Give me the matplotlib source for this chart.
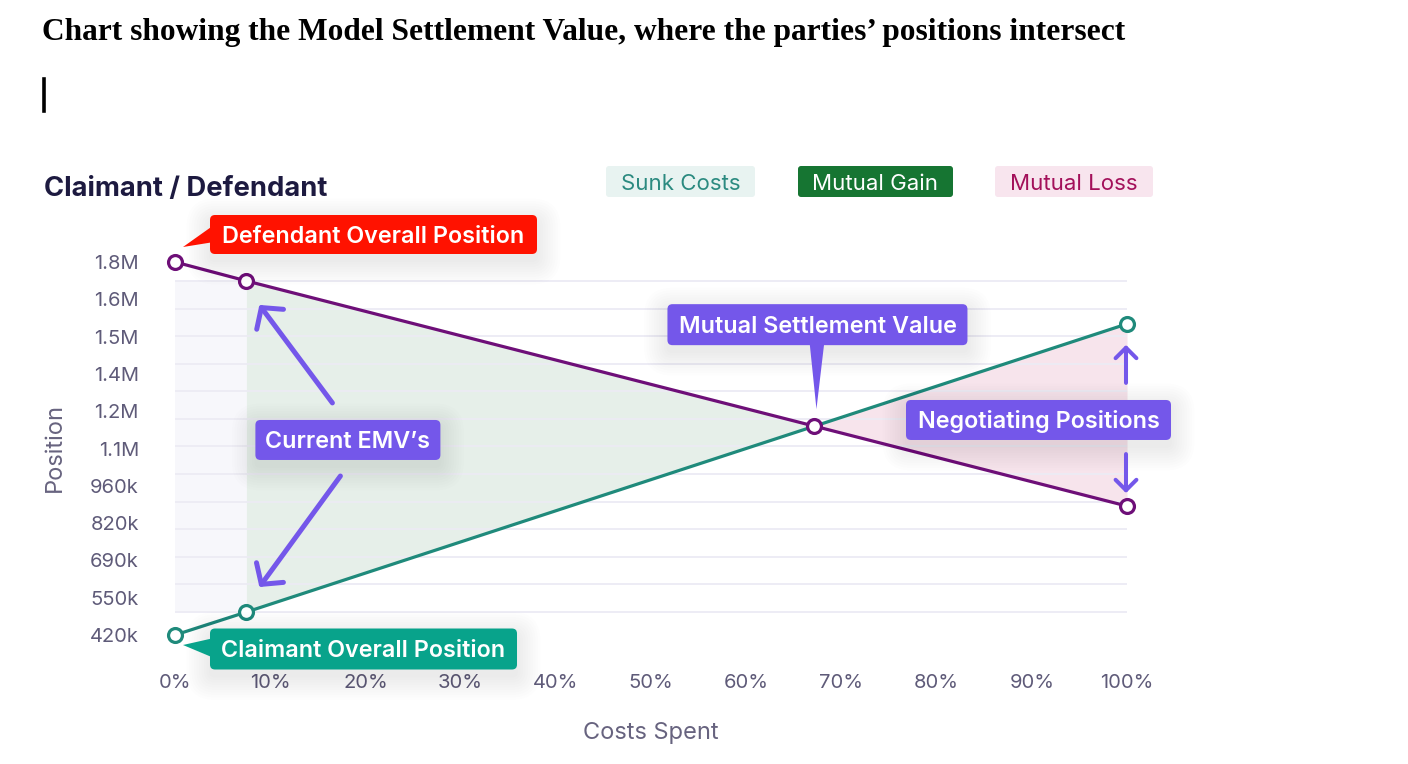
import matplotlib
matplotlib.use('Agg')
import matplotlib.pyplot as plt
from matplotlib.transforms import IdentityTransform
from matplotlib.patches import FancyBboxPatch, Polygon, FancyArrowPatch
from matplotlib.lines import Line2D
import numpy as np

# ---------------- data ----------------
cost_pct = [0, 7.5, 100]
defendant = [1800000, 1730000, 897000]
claimant = [420000, 505000, 1571000]
xtick_vals = list(range(0, 101, 10))
xtick_labels = [f'{v}%' for v in xtick_vals]
ytick_labels = ['420k', '550k', '690k', '820k', '960k', '1.1M', '1.2M', '1.4M', '1.5M', '1.6M', '1.8M']
legend_items = ['Sunk Costs', 'Mutual Gain', 'Mutual Loss']

title = 'Chart showing the Model Settlement Value, where the parties\u2019 positions intersect'

plt.rcParams['font.family'] = ['Inter', 'DejaVu Sans']

W, H = 1408, 764
fig = plt.figure(figsize=(W / 100, H / 100), dpi=100)
ID = IdentityTransform()

PURPLE = '#6e0f78'
TEAL = '#1f8a7b'
ARROW = '#7457ea'
TICK = '#5f5b79'

ax = fig.add_axes([175 / W, (H - 635) / H, 952 / W, 373 / H])
ax.set_xlim(0, 100)
ax.set_ylim(claimant[0], defendant[0])
for s in ax.spines.values():
    s.set_visible(False)
ax.patch.set_alpha(0)

# intersection of the two lines (segment 1-2)
x1, x2 = cost_pct[1], cost_pct[2]
d1, d2 = defendant[1], defendant[2]
c1, c2 = claimant[1], claimant[2]
frac = (d1 - c1) / ((c2 - c1) - (d2 - d1))
xi = x1 + frac * (x2 - x1)
yi = d1 + frac * (d2 - d1)

# fills
ax.fill_between([cost_pct[0], x1 + 0.2], [c1, c1], [d1, d1], color='#f7f7fb', lw=0, zorder=0.4)
ax.fill_between([x1, xi], [c1, yi], [d1, yi], color='#e6efe9', lw=0, zorder=0.5)
ax.fill_between([xi, x2], [yi, c2], [yi, d2], color='#f7e4ec', lw=0, zorder=0.5)

# grid lines
for g in np.linspace(c1, d1, 13):
    ax.axhline(g, color='#ecebf4', lw=1.3, zorder=1)

# lines
ax.plot(cost_pct, claimant, color=TEAL, lw=2.3, marker='o', ms=10, mfc='white',
        mec=TEAL, mew=2.3, clip_on=False, zorder=3)
ax.plot(cost_pct, defendant, color=PURPLE, lw=2.3, marker='o', ms=10, mfc='white',
        mec=PURPLE, mew=2.3, clip_on=False, zorder=4)
ax.plot([xi], [yi], marker='o', ms=10, mfc='white', mec=PURPLE, mew=2.3,
        clip_on=False, zorder=5)

# ticks
ax.set_xticks(xtick_vals)
ax.set_xticklabels(xtick_labels)
ax.set_yticks(np.linspace(claimant[0], defendant[0], len(ytick_labels)))
ax.set_yticklabels(ytick_labels)
ax.tick_params(axis='x', length=0, pad=28, labelsize=14.5, labelcolor=TICK)
ax.tick_params(axis='y', length=0, pad=26, labelsize=14.5, labelcolor=TICK)


def D(x, y):
    return ax.transData.transform((x, y))


def box(cx, cy, w, h, text, fc, tc, fs, weight=600, radius=5, shadow=True, z=10):
    if shadow:
        for i in range(10):
            g = 1 + i * 2.5
            fig.add_artist(FancyBboxPatch((cx - w / 2 - g, cy - h / 2 - g - 7), w + 2 * g, h + 2 * g,
                                          boxstyle=f'round,pad=0,rounding_size={radius + g}',
                                          transform=ID, fc='black', ec='none', alpha=0.009, zorder=z - 1))
    fig.add_artist(FancyBboxPatch((cx - w / 2, cy - h / 2), w, h,
                                  boxstyle=f'round,pad=0,rounding_size={radius}',
                                  transform=ID, fc=fc, ec='none', zorder=z))
    fs_px = fs * 100 / 72
    fig.text(cx, cy - 0.727 * fs_px / 2, text, transform=ID, ha='center', va='baseline',
             color=tc, fontsize=fs, fontweight=weight, zorder=z + 1)


def tail(pts, fc, z=10):
    fig.add_artist(Polygon(pts, closed=True, transform=ID, fc=fc, ec='none', zorder=z))


def arrow(p_from, p_to, lw, hl, hw):
    fig.add_artist(FancyArrowPatch(p_from, p_to, transform=ID,
                                   arrowstyle=f'->,head_length={hl},head_width={hw}',
                                   mutation_scale=10, lw=lw, color=ARROW, zorder=12,
                                   shrinkA=0, shrinkB=0))


CS = 16.8  # callout font size

# Defendant callout
a = D(cost_pct[0], defendant[0])
cx, cy = a[0] + 198.5, a[1] + 27.5
bw, bh = 327, 39
tail([(cx - bw / 2 + 4, cy + 9.5), (cx - bw / 2 + 4, cy - 7.5), (a[0] + 8, a[1] + 15)], '#ff1200')
box(cx, cy, bw, bh, 'Defendant Overall Position', '#ff1200', 'white', CS)

# Claimant callout
a = D(cost_pct[0], claimant[0])
cx, cy = a[0] + 188.5, a[1] - 14
bw, bh = 307, 41
tail([(cx - bw / 2 + 4, cy + 11), (cx - bw / 2 + 4, cy - 9), (a[0] + 8, a[1] - 10)], '#08a38b')
box(cx, cy, bw, bh, 'Claimant Overall Position', '#08a38b', 'white', CS)

# Mutual settlement value callout
a = D(xi, yi)
cx, cy = a[0] + 3, a[1] + 101.5
bw, bh = 300, 41
tail([(cx - 8, cy - bh / 2 + 4), (cx + 7, cy - bh / 2 + 4), (a[0] + 2, a[1] + 17)], '#7457ea')
box(cx, cy, bw, bh, 'Mutual Settlement Value', '#7457ea', 'white', CS)

# Current EMV's callout + arrows
pt_top = D(cost_pct[1], defendant[1])
pt_bot = D(cost_pct[1], claimant[1])
cx, cy = (pt_top[0] + pt_bot[0]) / 2 + 101.5, (pt_top[1] + pt_bot[1]) / 2 + 6.5
box(cx, cy, 185, 40, 'Current EMV\u2019s', '#7457ea', 'white', CS)
arrow((pt_top[0] + 86, pt_top[1] - 122), (pt_top[0] + 13, pt_top[1] - 24), 3.6, 1.05, 1.2)
arrow((pt_bot[0] + 94, pt_bot[1] + 136), (pt_bot[0] + 13, pt_bot[1] + 25), 3.6, 1.05, 1.2)

# Negotiating positions callout + arrows
pt_top = D(cost_pct[2], claimant[2])
pt_bot = D(cost_pct[2], defendant[2])
cx, cy = (pt_top[0] + pt_bot[0]) / 2 - 88.5, (pt_top[1] + pt_bot[1]) / 2 - 5
box(cx, cy, 265, 40, 'Negotiating Positions', '#7457ea', 'white', CS)
arrow((pt_top[0] - 1, pt_top[1] - 59), (pt_top[0] - 1, pt_top[1] - 21), 2.9, 0.75, 0.75)
arrow((pt_bot[0] - 1, pt_bot[1] + 52), (pt_bot[0] - 1, pt_bot[1] + 13), 2.9, 0.75, 0.75)

# Legend boxes
leg_style = [((680.5, 181.5), 149, '#e8f3f1', '#2b8a80'),
             ((875.5, 181.5), 155, '#167532', 'white'),
             ((1074, 181.5), 158, '#f8e5ee', '#a3105a')]
for name, ((lx, ly), lw_, fc, tc) in zip(legend_items, leg_style):
    box(lx, H - ly, lw_, 31, name, fc, tc, 16, weight='normal', radius=3, shadow=False)

# Titles and axis labels
fig.text(42, H - 40, title, transform=ID, ha='left', va='baseline', fontsize=22.6,
         fontweight='bold', family=['Liberation Serif', 'DejaVu Serif'], color='black')
fig.add_artist(Line2D([44, 44], [H - 79, H - 111], transform=ID, color='black', lw=2.6))
fig.text(44, H - 196, 'Claimant / Defendant', transform=ID, ha='left', va='baseline',
         fontsize=19.7, fontweight='bold', color='#1d1a40')
fig.text(55, H - 448, 'Position', transform=ID, rotation=90, ha='center', va='center',
         fontsize=17, color='#67637f')
fig.text(651, H - 733, 'Costs Spent', transform=ID, ha='center', va='center',
         fontsize=17, color='#67637f')

fig.savefig('out.png', dpi=100)
